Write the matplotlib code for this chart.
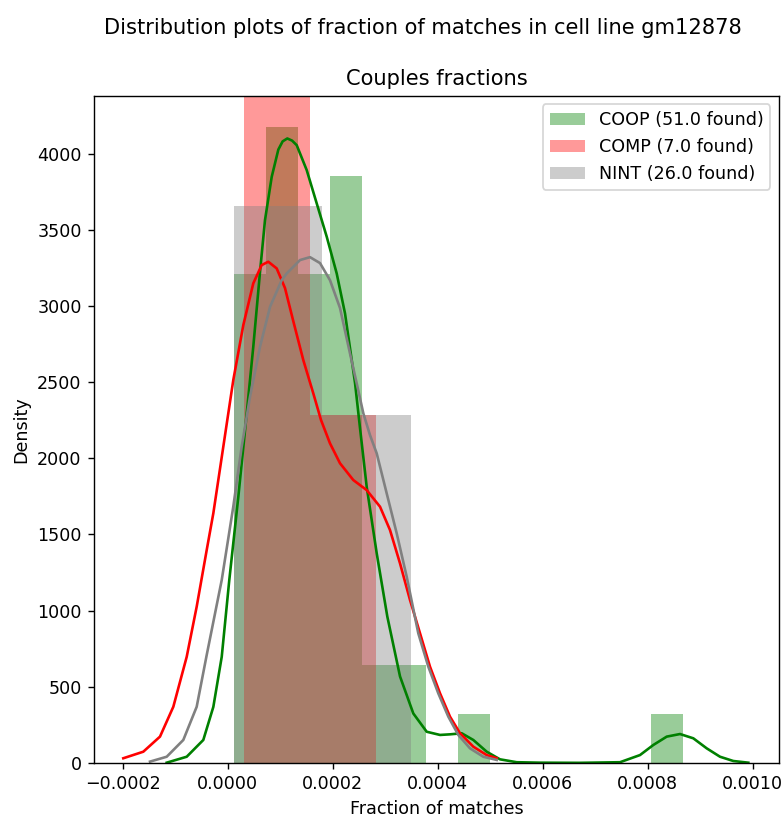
import matplotlib
matplotlib.use("Agg")
import matplotlib.pyplot as plt
import numpy as np

# --- histogram bins (counts per bin, bin range) ---
coop_range = (0.1238e-4, 8.67e-4)
coop_counts = [10, 13, 10, 12, 2, 2, 0, 1, 0, 0, 0, 0, 0, 1]

comp_range = (0.32e-4, 2.823e-4)
comp_counts = [5, 2]

nint_range = (0.1238e-4, 3.49e-4)
nint_counts = [16, 10]

# --- kde curves (x in units of 1e-4, density) ---
coop_kde_x = [-1.158, -0.777, -0.461, -0.270, -0.110, 0.034, 0.206, 0.366, 0.491,
              0.619, 0.714, 0.842, 0.968, 1.050, 1.139, 1.230, 1.318, 1.509, 1.699,
              1.890, 2.080, 2.238, 2.429, 2.524, 2.651, 2.842, 3.044, 3.286, 3.539,
              3.794, 4.048, 4.238, 4.461, 4.682, 4.937, 5.190, 5.509, 5.952, 6.700,
              7.476, 7.857, 8.110, 8.366, 8.619, 8.872, 9.128, 9.381, 9.634, 9.920]
coop_kde_y = [2, 41, 151, 368, 697, 1201, 1747, 2295, 2732,
              3222, 3563, 3847, 4026, 4080, 4099, 4085, 4055, 3891, 3673,
              3454, 3213, 2951, 2494, 2198, 1813, 1376, 961, 568, 325,
              205, 184, 188, 195, 151, 74, 24, 5, 2, 1,
              5, 52, 118, 173, 190, 162, 96, 41, 13, 2]

comp_kde_x = [-1.985, -1.604, -1.286, -1.032, -0.777, -0.587, -0.396, -0.270, -0.080,
              0.110, 0.301, 0.491, 0.651, 0.777, 0.937, 1.095, 1.253, 1.444, 1.634,
              1.781, 1.952, 2.143, 2.396, 2.651, 2.905, 3.095, 3.286, 3.476, 3.667,
              3.857, 4.048, 4.238, 4.429, 4.682, 4.937, 5.128]
comp_kde_y = [31, 74, 173, 369, 697, 1026, 1398, 1639, 2076,
              2513, 2874, 3148, 3268, 3290, 3246, 3117, 2900, 2644, 2426,
              2251, 2098, 1967, 1857, 1791, 1682, 1529, 1310, 1070, 851,
              632, 457, 304, 195, 107, 52, 31]

nint_kde_x = [-1.476, -1.158, -0.842, -0.587, -0.396, -0.110, 0.110, 0.270, 0.429,
              0.619, 0.810, 1.032, 1.128, 1.381, 1.571, 1.762, 1.952, 2.143, 2.333,
              2.461, 2.587, 2.714, 2.842, 3.032, 3.223, 3.413, 3.634, 3.825, 4.015,
              4.206, 4.396, 4.619, 4.872, 5.128]
nint_kde_y = [9, 41, 151, 369, 709, 1201, 1682, 2076, 2404,
              2732, 2994, 3169, 3213, 3301, 3320, 3281, 3169, 2986, 2688,
              2492, 2295, 2152, 2032, 1770, 1507, 1223, 851, 632, 457,
              304, 184, 96, 41, 20]

series = [
    ("COOP (51.0 found)", "green", coop_range, coop_counts, coop_kde_x, coop_kde_y),
    ("COMP (7.0 found)", "red", comp_range, comp_counts, comp_kde_x, comp_kde_y),
    ("NINT (26.0 found)", "gray", nint_range, nint_counts, nint_kde_x, nint_kde_y),
]

DPI = 126
fig = plt.figure(figsize=(782 / DPI, 819 / DPI), dpi=DPI)
ax = fig.add_axes([0.1202, 0.0684, 0.9962 - 0.1202, 0.8832 - 0.0684])

for label, color, rng, counts, kx, ky in series:
    edges = np.linspace(rng[0], rng[1], len(counts) + 1)
    centers = (edges[:-1] + edges[1:]) / 2
    ax.hist(centers, bins=edges, weights=counts, density=True,
            color=color, alpha=0.4, label=label)
    ax.plot(np.array(kx) * 1e-4, ky, color=color, lw=1.5, solid_joinstyle="round")

ax.set_xlim(-2.543e-4, 10.505e-4)
ax.set_ylim(0, 4380)
ax.set_xticks(np.arange(-0.0002, 0.00101, 0.0002))
ax.set_yticks(np.arange(0, 4001, 500))
ax.set_xlabel("Fraction of matches")
ax.set_ylabel("Density")
ax.set_title("Couples fractions", fontsize=12)
ax.legend(loc="upper right")
fig.suptitle("Distribution plots of fraction of matches in cell line gm12878",
             x=0.541, y=0.978, fontsize=12)

fig.savefig("out.png", dpi=DPI)
